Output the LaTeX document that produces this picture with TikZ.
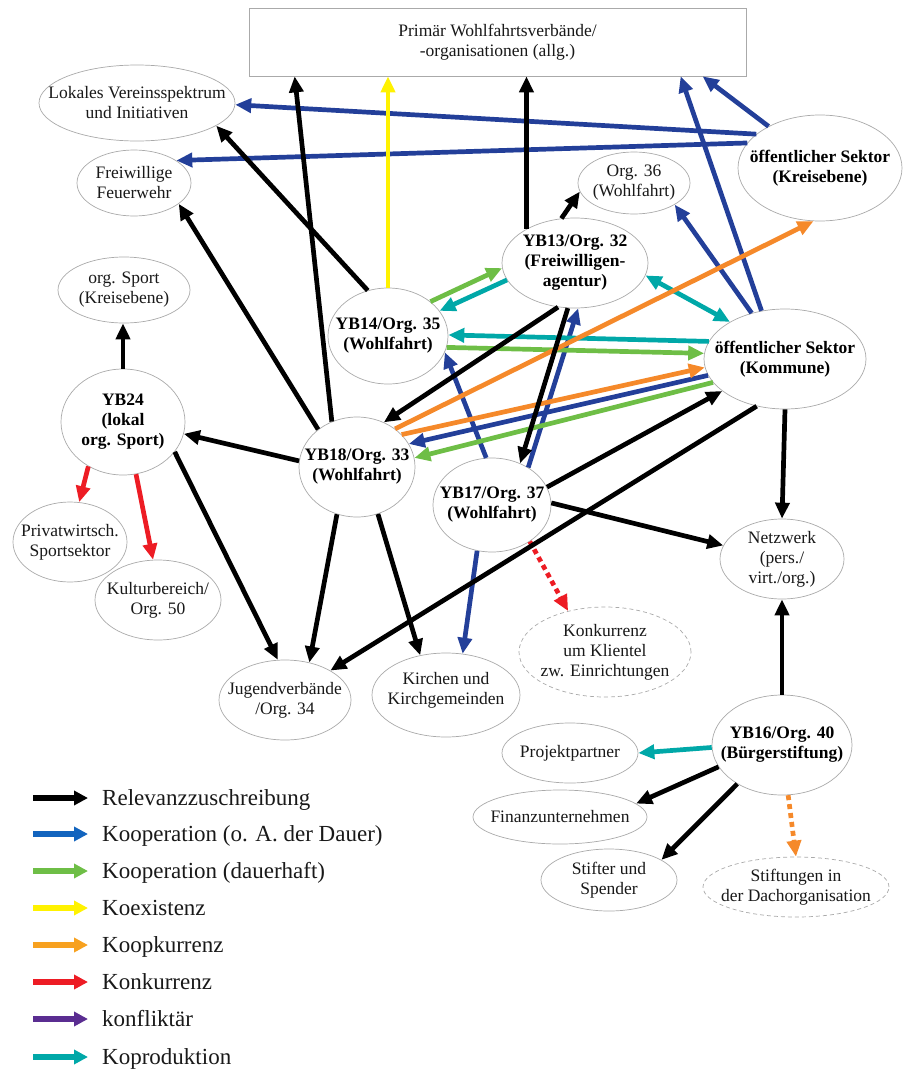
\documentclass[tikz,border=0pt]{standalone}
\usepackage{fontspec}
\setmainfont{Liberation Serif}
\usetikzlibrary{shapes.geometric,arrows.meta,calc}

\definecolor{edgeblue}{RGB}{35,63,153}
\definecolor{edgegreen}{RGB}{110,190,70}
\definecolor{edgeyellow}{RGB}{255,242,0}
\definecolor{edgeorange}{RGB}{245,137,42}
\definecolor{edgered}{RGB}{237,28,36}
\definecolor{edgeteal}{RGB}{0,168,168}
\definecolor{legblue}{RGB}{18,100,190}
\definecolor{legorange}{RGB}{247,161,31}
\definecolor{legpurple}{RGB}{90,45,145}
\definecolor{nodegray}{RGB}{170,170,170}
\definecolor{textdark}{RGB}{25,25,25}

\begin{document}
\begin{tikzpicture}[x=1pt,y=-1pt,
  >={Triangle[length=16pt,width=14pt]},
  ell/.style={ellipse, draw=nodegray, line width=0.7pt, inner sep=0pt, fill=white},
  dell/.style={ell, dash pattern=on 4pt off 3pt},
  box/.style={rectangle, draw=nodegray, line width=0.7pt, inner sep=0pt, fill=white, align=center,
    text=textdark, font=\fontsize{17.5}{20}\selectfont},
  txt/.style={align=center, inner sep=0pt, text=textdark, font=\fontsize{17.5}{20}\selectfont},
  btxt/.style={align=center, inner sep=0pt, text=black, font=\fontsize{17.5}{20}\selectfont\bfseries},
  rel/.style={line width=4.7pt, ->},
  dotline/.style={dash pattern=on 5pt off 4pt},
  legarrow/.style={line width=6pt, -{Triangle[length=14pt,width=14pt]}},
  legtxt/.style={inner sep=0pt, text=textdark, font=\fontsize{23}{26}\selectfont}
]
\useasboundingbox (0,0) rectangle (910,1071);

% ---------- nodes ----------
\node[box, minimum width=497pt, minimum height=68pt] (prim) at (497.5,42)
  {Primär Wohlfahrtsverbände/\\-organisationen (allg.)};

\node[ell, minimum width=196pt, minimum height=76pt] (lokal) at (137,103) {};
\node[txt] (lokal-t) at (lokal) {Lokales Vereinsspektrum\\und Initiativen};

\node[ell, minimum width=114pt, minimum height=66pt] (feuer) at (134,183) {};
\node[txt] (feuer-t) at (feuer) {Freiwillige\\Feuerwehr};

\node[ell, minimum width=132pt, minimum height=66pt] (osport) at (124,290) {};
\node[txt] (osport-t) at (osport) {org. Sport\\(Kreisebene)};

\node[ell, minimum width=124pt, minimum height=106pt] (yb24) at (123,422) {};
\node[btxt] (yb24-t) at (yb24) {YB24\\(lokal\\org. Sport)};

\node[ell, minimum width=114pt, minimum height=80pt] (privat) at (70,542) {};
\node[txt] (privat-t) at (privat) {Privatwirtsch.\\Sportsektor};

\node[ell, minimum width=126pt, minimum height=80pt] (kultur) at (158,600) {};
\node[txt] (kultur-t) at (kultur) {Kulturbereich/\\Org. 50};

\node[ell, minimum width=132pt, minimum height=80pt] (jugend) at (285,700) {};
\node[txt] (jugend-t) at (jugend) {Jugendverbände\\/Org. 34};

\node[ell, minimum width=148pt, minimum height=84pt] (kirchen) at (446,695) {};
\node[txt] (kirchen-t) at (446,690) {Kirchen und\\Kirchgemeinden};

\node[dell, minimum width=172pt, minimum height=90pt] (konk) at (605,652) {};
\node[txt] (konk-t) at (konk) {Konkurrenz\\um Klientel\\zw. Einrichtungen};

\node[ell, minimum width=124pt, minimum height=80pt] (netz) at (782,559) {};
\node[txt] (netz-t) at (netz) {Netzwerk\\(pers./\\virt./org.)};

\node[ell, minimum width=140pt, minimum height=100pt] (yb16) at (782,745) {};
\node[btxt] (yb16-t) at (yb16) {YB16/Org. 40\\(Bürgerstiftung)};

\node[ell, minimum width=136pt, minimum height=60pt] (projekt) at (570,753) {};
\node[txt] (projekt-t) at (projekt) {Projektpartner};

\node[ell, minimum width=174pt, minimum height=54pt] (finanz) at (560,817) {};
\node[txt] (finanz-t) at (finanz) {Finanzunternehmen};

\node[ell, minimum width=136pt, minimum height=62pt] (stifter) at (609,880) {};
\node[txt] (stifter-t) at (stifter) {Stifter und\\Spender};

\node[dell, minimum width=186pt, minimum height=60pt] (stiftung) at (796,887) {};
\node[txt] (stiftung-t) at (stiftung) {Stiftungen in\\der Dachorganisation};

\node[ell, minimum width=116pt, minimum height=100pt] (yb18) at (357,467) {};
\node[btxt] (yb18-t) at (yb18) {YB18/Org. 33\\(Wohlfahrt)};

\node[ell, minimum width=118pt, minimum height=94pt] (yb17) at (492,505) {};
\node[btxt] (yb17-t) at (yb17) {YB17/Org. 37\\(Wohlfahrt)};

\node[ell, minimum width=120pt, minimum height=96pt] (yb14) at (388,336) {};
\node[btxt] (yb14-t) at (yb14) {YB14/Org. 35\\(Wohlfahrt)};

\node[ell, minimum width=146pt, minimum height=90pt] (yb13) at (575,263) {};
\node[btxt] (yb13-t) at (yb13) {YB13/Org. 32\\(Freiwilligen-\\agentur)};

\node[ell, minimum width=112pt, minimum height=62pt] (org36) at (634,183) {};
\node[txt] (org36-t) at (org36) {Org. 36\\(Wohlfahrt)};

\node[ell, minimum width=164pt, minimum height=106pt] (kreis) at (820,168) {};
\node[btxt] (kreis-t) at (kreis) {öffentlicher Sektor\\(Kreisebene)};

\node[ell, minimum width=162pt, minimum height=100pt] (kommune) at (785,359) {};
\node[btxt] (kommune-t) at (kommune) {öffentlicher Sektor\\(Kommune)};

% ---------- Kooperation (o. A. der Dauer) ----------
\begin{scope}[rel, edgeblue]
\draw (kreis.152) -- (lokal.-1);
\draw (kreis.161) -- (feuer.28);
\draw (kreis.141) -- ($(prim.south west)+(454,0)$);
\draw (kommune.116) -- ($(prim.south west)+(432,0)$);
\draw (kommune.126) -- (org36.-28);
\draw (kommune.192) -- (yb18.24);
\draw (yb17.46) -- (yb13.274);
\draw (yb17.97) -- (yb14.-16);
\draw (yb17.252) -- (kirchen.68);
\end{scope}

% ---------- Koproduktion ----------
\begin{scope}[rel, edgeteal]
\draw[<->] (yb13.-10) -- (kommune.146);
\draw (kommune.167) -- (yb14.1);
\draw (yb13.194) -- (yb14.26);
\draw (yb16.182) -- (projekt.east);
\end{scope}

% ---------- Kooperation (dauerhaft) ----------
\begin{scope}[rel, edgegreen]
\draw (yb14.-11) -- (kommune.176);
\draw (kommune.198) -- (yb18.9);
\draw (yb14.39) -- (yb13.184);
\end{scope}

% ---------- Koopkurrenz ----------
\begin{scope}[rel, edgeorange]
\draw (yb18.45) -- (kreis.-97);
\draw (yb18.36) -- (kommune.186);
\draw[dotline] (yb16.-83) -- (stiftung.north);
\end{scope}

% ---------- Konkurrenz ----------
\begin{scope}[rel, edgered]
\draw (yb24.232) -- (privat.77);
\draw (yb24.-76) -- (kultur.97);
\draw[dotline] (yb17.-44) -- (konk.132);
\end{scope}

% ---------- Koexistenz ----------
\draw[rel, edgeyellow] (yb14.north) -- (yb14.north |- prim.south);

% ---------- Relevanzzuschreibung ----------
\begin{scope}[rel, black]
\draw (yb13.249) -- (yb18.59);
\draw (yb13.261) -- (yb17.56);
\draw (yb13.107) -- (org36.189);
\draw (yb13.145) -- (yb13.145 |- prim.south);
\draw (yb14.114) -- (lokal.-16);
\draw (yb18.119) -- ($(prim.south west)+(46,0)$);
\draw (yb18.136) -- (feuer.-25);
\draw (yb24.north) -- (yb24.north |- osport.south);
\draw (yb18.174) -- (yb24.-11);
\draw (yb24.-30) -- (jugend.100);
\draw (yb18.247) -- (jugend.57);
\draw (yb18.-66) -- (kirchen.123);
\draw (kommune.239) -- (jugend.33);
\draw (yb17.18) -- (kommune.207);
\draw (yb17.2) -- (netz.167);
\draw (kommune.south) -- (netz.north);
\draw (yb16.north) -- (netz.south);
\draw (yb16.199) -- (finanz.10);
\draw (yb16.221) -- (stifter.21);
\end{scope}

% ---------- legend ----------
\foreach \y/\c/\t [count=\i] in {
  798/black/Relevanzzuschreibung,
  834/legblue/{Kooperation (o. A. der Dauer)},
  871/edgegreen/{Kooperation (dauerhaft)},
  908/edgeyellow/Koexistenz,
  945/legorange/Koopkurrenz,
  982/edgered/Konkurrenz,
  1019/legpurple/konfliktär,
  1057/edgeteal/Koproduktion} {
  \coordinate (leg\i-a) at (33,\y);
  \coordinate (leg\i-b) at (88,\y);
  \draw[legarrow, \c] (leg\i-a) -- (leg\i-b);
  \node[legtxt, anchor=base west] (leg\i-t) at (102,\y+7) {\t};
}
\end{tikzpicture}
\end{document}
